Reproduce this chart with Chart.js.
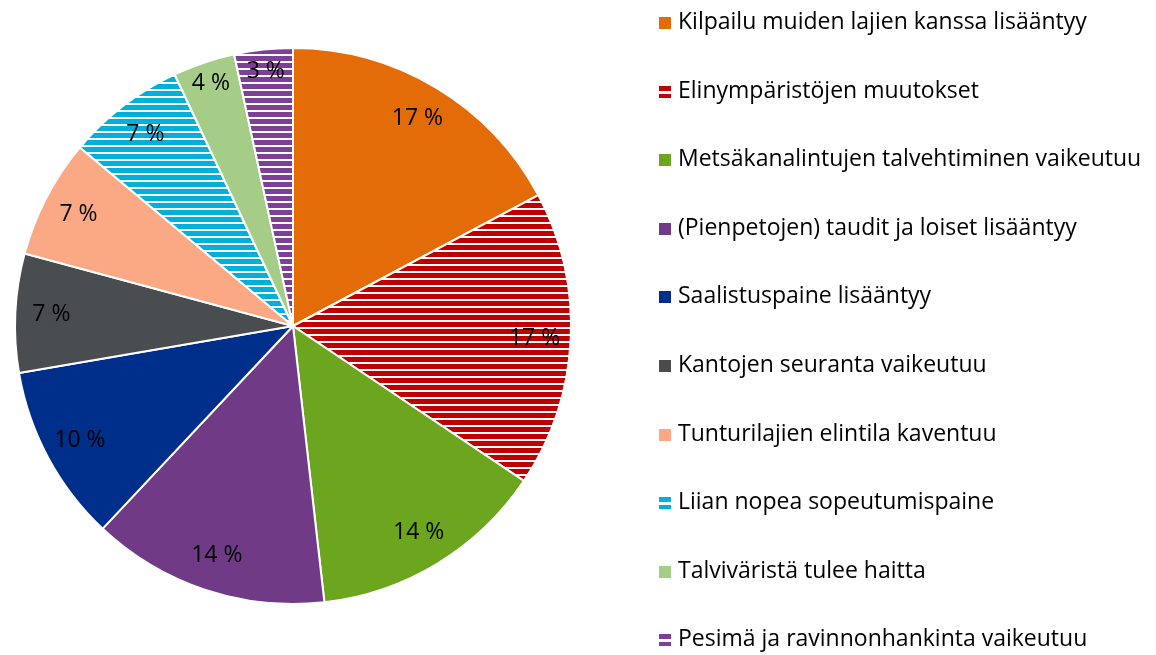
<!DOCTYPE html>
<html>
<head>
<meta charset="utf-8">
<script src="https://cdn.jsdelivr.net/npm/chart.js@4/dist/chart.umd.min.js"></script>
<style>
    html, body { margin: 0; padding: 0; background: #fff; }
</style>
</head>
<body>
<canvas id="pie" width="1156" height="655"></canvas>
<script>
// shares in percent
const categories = [
    'Kilpailu muiden lajien kanssa lisääntyy',
    'Elinympäristöjen muutokset',
    'Metsäkanalintujen talvehtiminen vaikeutuu',
    '(Pienpetojen) taudit ja loiset lisääntyy',
    'Saalistuspaine lisääntyy',
    'Kantojen seuranta vaikeutuu',
    'Tunturilajien elintila kaventuu',
    'Liian nopea sopeutumispaine',
    'Talviväristä tulee haitta',
    'Pesimä ja ravinnonhankinta vaikeutuu'
];
const shares = [17.2, 17.2, 13.8, 13.8, 10.3, 6.9, 6.9, 6.9, 3.6, 3.4];
const colours = ['#e36c09', '#c00000', '#6ba61e', '#703a86', '#002e8b', '#4a4d50', '#fba884', '#00b0dc', '#a6cd88', '#7e3f98'];
const striped = [false, true, false, false, false, false, false, true, false, true];

const FONT = '"Open Sans", sans-serif';
const ctx = document.getElementById('pie').getContext('2d');

function stripes(colour) {
    var c = document.createElement('canvas');
    c.width = 8;
    c.height = 7;
    var g = c.getContext('2d');
    g.fillStyle = colour;
    g.fillRect(0, 0, 8, 7);
    g.fillStyle = '#ffffff';
    g.fillRect(0, 5, 8, 2);
    return ctx.createPattern(c, 'repeat');
}

const fills = colours.map(function (c, i) { return striped[i] ? stripes(c) : c; });

// percentage labels inside the slices
const sliceLabels = {
    id: 'sliceLabels',
    afterDatasetsDraw: function (chart) {
        var c = chart.ctx;
        c.save();
        c.font = '23px ' + FONT;
        c.fillStyle = '#000';
        c.textAlign = 'center';
        c.textBaseline = 'middle';
        chart.getDatasetMeta(0).data.forEach(function (arc, i) {
            var p = arc.getProps(['x', 'y', 'startAngle', 'endAngle', 'outerRadius'], true);
            var mid = (p.startAngle + p.endAngle) / 2;
            var r = p.outerRadius * (shares[i] < 5 ? 0.92 : 0.87);
            c.fillText(Math.round(shares[i]) + ' %', p.x + Math.cos(mid) * r, p.y + Math.sin(mid) * r);
        });
        c.restore();
    }
};

// legend column on the right
const sideLegend = {
    id: 'sideLegend',
    afterDraw: function (chart) {
        var c = chart.ctx;
        c.save();
        c.font = '23px ' + FONT;
        c.textBaseline = 'middle';
        categories.forEach(function (label, i) {
            var y = Math.round(22 + i * 68.6);
            c.fillStyle = colours[i];
            c.fillRect(659, y - 5, 12, 12);
            if (striped[i]) {
                // white bar through the marker, like the striped slices
                c.fillStyle = '#ffffff';
                c.fillRect(659, y, 12, 3);
            }
            c.fillStyle = '#000';
            c.fillText(label, 678, y);
        });
        c.restore();
    }
};

new Chart(ctx, {
    type: 'pie',
    data: {
        labels: categories,
        datasets: [{
            data: shares,
            backgroundColor: fills,
            borderColor: '#ffffff',
            borderWidth: 2,
            hoverOffset: 0
        }]
    },
    plugins: [sliceLabels, sideLegend],
    options: {
        responsive: false,
        animation: false,
        layout: {
            padding: { left: 14, right: 584, top: 47, bottom: 50 }
        },
        plugins: {
            legend: { display: false },
            tooltip: { enabled: false }
        }
    }
});
</script>
</body>
</html>
